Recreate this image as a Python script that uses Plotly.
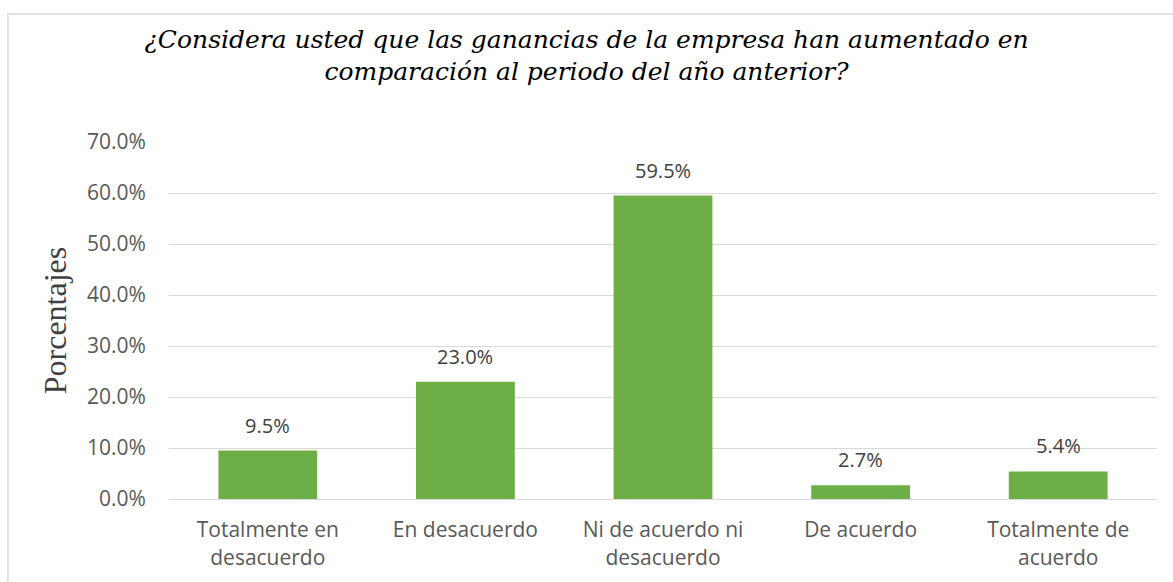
import plotly.graph_objects as go

categories = ["Totalmente en<br>desacuerdo", "En desacuerdo", "Ni de acuerdo ni<br>desacuerdo",
              "De acuerdo", "Totalmente de<br>acuerdo"]
values = [9.5, 23.0, 59.5, 2.7, 5.4]
tick_vals = [0, 10, 20, 30, 40, 50, 60, 70]
tick_text = ["0.0%", "10.0%", "20.0%", "30.0%", "40.0%", "50.0%", "60.0%", "70.0%"]

label_font = dict(family="Open Sans", size=21, color="#595959")
serif = "Liberation Serif"

fig = go.Figure(go.Bar(
    x=categories,
    y=values,
    width=0.5,
    marker=dict(color="#6eae46", line=dict(width=0)),
    cliponaxis=False,
))

# value labels above each bar
for c, v in zip(categories, values):
    fig.add_annotation(
        x=c, y=v, xref="x", yref="y",
        text=f"{v:.1f}%", showarrow=False,
        yanchor="bottom", yshift=10,
        font=dict(family="Open Sans", size=20, color="#404040"),
    )

fig.update_layout(
    width=1173, height=582,
    margin=dict(l=169, r=16, t=142, b=83),
    paper_bgcolor="white", plot_bgcolor="white",
    showlegend=False,
    title=dict(
        text="¿Considera usted que las ganancias de la empresa han aumentado en<br>comparación al periodo del año anterior?",
        x=0.5, xref="container", xanchor="center",
        y=0.918, yref="container", yanchor="top",
        font=dict(family="DejaVu Serif", size=25, color="#000000", style="italic"),
    ),
    xaxis=dict(
        showgrid=False, showline=False,
        ticks="outside", ticklen=12, tickcolor="rgba(0,0,0,0)",
        tickfont=label_font,
    ),
    yaxis=dict(
        range=[0, 70], tickvals=tick_vals, ticktext=tick_text,
        tickfont=label_font,
        showgrid=True, gridcolor="#d9d9d9", gridwidth=1,
        zeroline=True, zerolinecolor="#d9d9d9", zerolinewidth=1,
        showline=False, ticks="outside", ticklen=18, tickcolor="rgba(0,0,0,0)",
        title=dict(text="Porcentajes", font=dict(family=serif, size=32, color="#404040"),
                   standoff=10),
    ),
    shapes=[dict(
        type="rect", xref="paper", yref="paper",
        x0=-0.163, x1=1.2, y0=-0.5, y1=1.3585,
        line=dict(color="#d9d9d9", width=1.5), fillcolor="rgba(0,0,0,0)",
        layer="below",
    )],
)

fig.write_html("out.html")
